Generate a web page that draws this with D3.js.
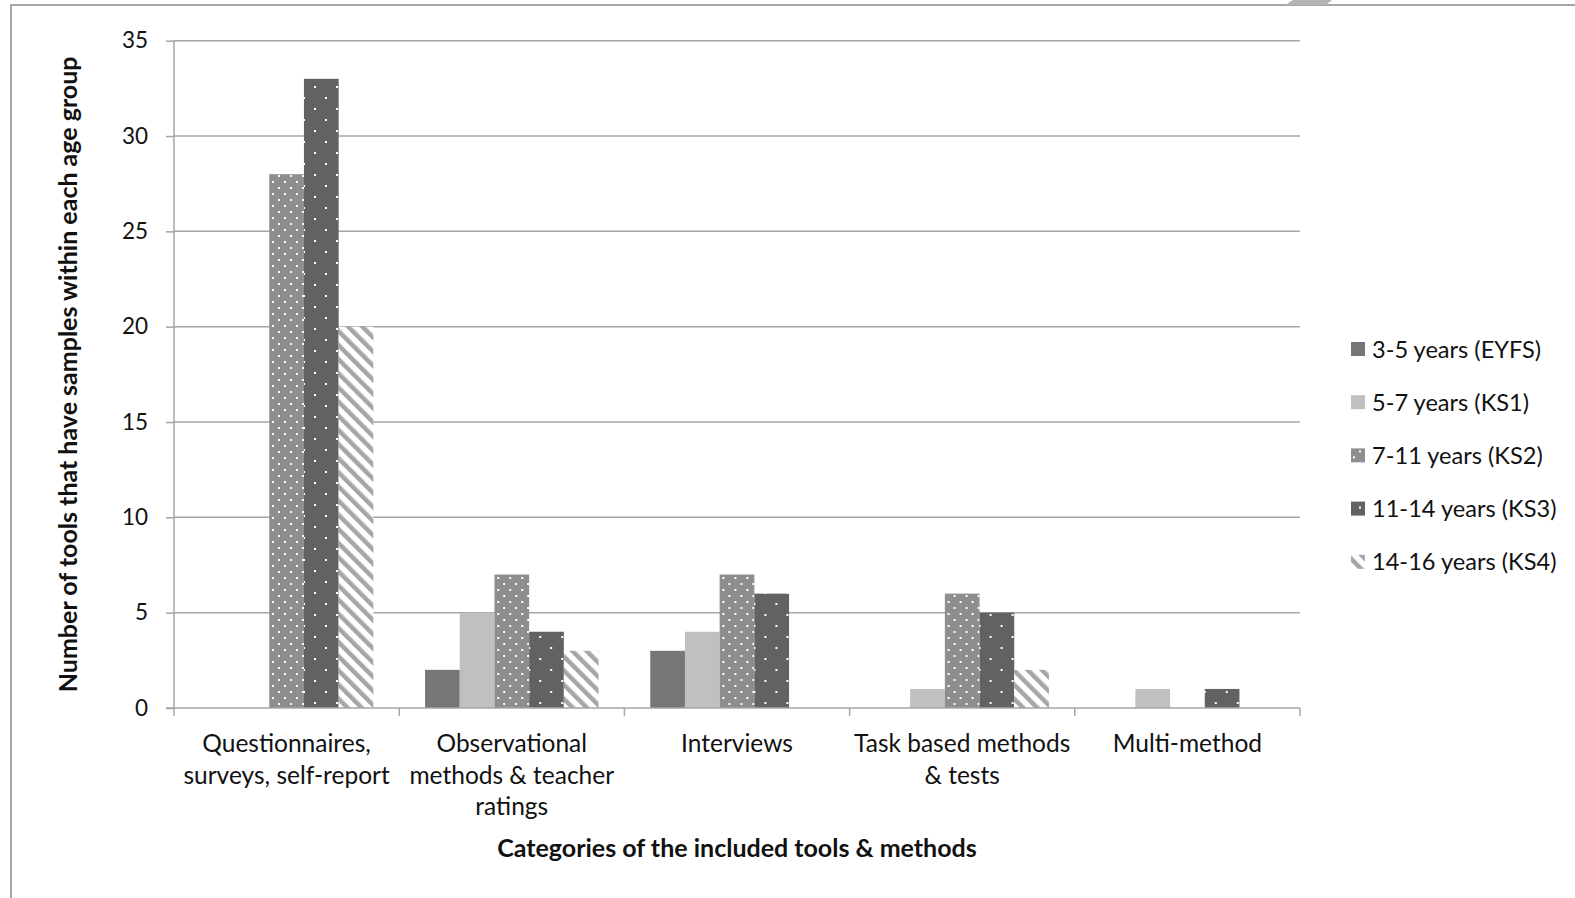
<!DOCTYPE html>
<html>
<head>
<meta charset="utf-8">
<script src="https://cdn.jsdelivr.net/npm/d3@7"></script>
<style>
  html, body { margin: 0; padding: 0; background: #fff; }
  svg { display: block; font-family: Lato, "Open Sans", sans-serif; }
</style>
</head>
<body>
<svg id="chart" width="1575" height="898"></svg>
<script>
// Tool / method categories along the x axis (each entry is one label, split into lines)
const categories = [
  ["Questionnaires,", "surveys, self-report"],
  ["Observational", "methods & teacher", "ratings"],
  ["Interviews"],
  ["Task based methods", "& tests"],
  ["Multi-method"]
];
const categoryKeys = ["Questionnaires", "Observational", "Interviews", "Task", "Multi"];

// Age groups (series)
const seriesNames = ["3-5 years (EYFS)", "5-7 years (KS1)", "7-11 years (KS2)", "11-14 years (KS3)", "14-16 years (KS4)"];

// Number of tools per age group, one array per category
const questionnaires = [0, 0, 28, 33, 20];
const observational  = [2, 5, 7, 4, 3];
const interviews     = [3, 4, 7, 6, 0];
const taskBased      = [0, 1, 6, 5, 2];
const multiMethod    = [0, 1, 0, 1, 0];

const yTicks = [0, 5, 10, 15, 20, 25, 30, 35];

const valuesByCategory = [questionnaires, observational, interviews, taskBased, multiMethod];

const svg = d3.select("#chart");
const defs = svg.append("defs");

// Fill patterns for the series
// 7-11: medium grey with dense, staggered white dots
const pDots = defs.append("pattern").attr("id", "dotsDense")
  .attr("patternUnits", "userSpaceOnUse").attr("width", 12).attr("height", 12);
pDots.append("rect").attr("width", 12).attr("height", 12).attr("fill", "#8e8e8e");
pDots.append("rect").attr("x", 2).attr("y", 1).attr("width", 2).attr("height", 2).attr("fill", "#ffffff");
pDots.append("rect").attr("x", 8).attr("y", 7).attr("width", 2).attr("height", 2).attr("fill", "#ffffff");

// 11-14: dark grey with sparse staggered white dots
const pSparse = defs.append("pattern").attr("id", "dotsSparse")
  .attr("patternUnits", "userSpaceOnUse").attr("width", 22).attr("height", 22);
pSparse.append("rect").attr("width", 22).attr("height", 22).attr("fill", "#626262");
pSparse.append("rect").attr("x", 19).attr("y", 9).attr("width", 2).attr("height", 2).attr("fill", "#ffffff");
pSparse.append("rect").attr("x", 8).attr("y", 20).attr("width", 2).attr("height", 2).attr("fill", "#ffffff");

// 14-16: light grey diagonal stripes (top-left to bottom-right) on white
const pStripe = defs.append("pattern").attr("id", "stripes")
  .attr("patternUnits", "userSpaceOnUse").attr("width", 10).attr("height", 10)
  .attr("patternTransform", "rotate(-45)");
pStripe.append("rect").attr("width", 10).attr("height", 10).attr("fill", "#ffffff");
pStripe.append("rect").attr("x", 0).attr("y", 0).attr("width", 4.5).attr("height", 10).attr("fill", "#a6a6a6");

const seriesFill = ["#767676", "#c0c0c0", "url(#dotsDense)", "url(#dotsSparse)", "url(#stripes)"];

// Outer frame
svg.append("path")
  .attr("d", "M11,898 V5 H1575")
  .attr("fill", "none").attr("stroke", "#a6a6a6").attr("stroke-width", 2);
svg.append("polygon")
  .attr("points", "1285,5 1326,5 1332,0 1293,0")
  .attr("fill", "#b4b4b4");

// Plot geometry
const plotLeft = 174, plotRight = 1300, plotTop = 40.7, plotBottom = 708;

const x0 = d3.scaleBand().domain(categoryKeys).range([plotLeft, plotRight]).paddingInner(0).paddingOuter(0);
const x1 = d3.scaleBand().domain(d3.range(seriesNames.length))
  .range([0, x0.bandwidth()]).paddingOuter(0.745).paddingInner(0);
const y = d3.scaleLinear().domain([0, 35]).range([plotBottom, plotTop]);

// Gridlines
svg.append("g").selectAll("line").data(yTicks.filter(d => d > 0)).join("line")
  .attr("x1", plotLeft).attr("x2", plotRight)
  .attr("y1", d => y(d)).attr("y2", d => y(d))
  .attr("stroke", "#a6a6a6").attr("stroke-width", 1.5);

// Bars
const groups = svg.append("g").selectAll("g").data(categoryKeys).join("g")
  .attr("transform", d => `translate(${x0(d)},0)`);
groups.selectAll("rect")
  .data((d, i) => valuesByCategory[i].map((v, s) => ({ v, s })).filter(e => e.v > 0))
  .join("rect")
  .attr("x", d => x1(d.s))
  .attr("width", x1.bandwidth())
  .attr("y", d => y(d.v))
  .attr("height", d => y(0) - y(d.v))
  .attr("fill", d => seriesFill[d.s]);

// Y axis
const yAxis = d3.axisLeft(y).tickValues(yTicks).tickSize(8).tickPadding(18);
const gy = svg.append("g").attr("transform", `translate(${plotLeft},0)`).call(yAxis);
gy.select(".domain").attr("stroke", "#a6a6a6").attr("stroke-width", 1.5)
  .attr("d", `M0,${plotTop}V${plotBottom}`);
gy.selectAll(".tick line").attr("stroke", "#a6a6a6").attr("stroke-width", 1.5);
gy.selectAll(".tick text").attr("font-size", 22.5).attr("fill", "#111")
  .attr("font-family", "Lato, 'Open Sans', sans-serif");

// X axis line and category boundary ticks
const bounds = categoryKeys.map(k => x0(k)).concat([plotRight]);
svg.append("line").attr("x1", plotLeft - 8).attr("x2", plotRight)
  .attr("y1", plotBottom).attr("y2", plotBottom)
  .attr("stroke", "#a6a6a6").attr("stroke-width", 1.5);
svg.append("g").selectAll("line").data(bounds).join("line")
  .attr("x1", d => d).attr("x2", d => d)
  .attr("y1", plotBottom).attr("y2", plotBottom + 8)
  .attr("stroke", "#a6a6a6").attr("stroke-width", 1.5);

// Category labels
const catLabels = svg.append("g").selectAll("text").data(categories).join("text")
  .attr("text-anchor", "middle")
  .attr("font-size", 24.5).attr("fill", "#111")
  .attr("x", (d, i) => x0(categoryKeys[i]) + x0.bandwidth() / 2)
  .attr("y", 752);
catLabels.selectAll("tspan").data(d => d).join("tspan")
  .attr("x", function () { return d3.select(this.parentNode).attr("x"); })
  .attr("dy", (d, i) => i === 0 ? 0 : 31.7)
  .text(d => d);

// Axis titles
svg.append("text")
  .attr("x", (plotLeft + plotRight) / 2).attr("y", 857)
  .attr("text-anchor", "middle").attr("font-size", 25).attr("font-weight", "bold").attr("fill", "#111")
  .text("Categories of the included tools & methods");
svg.append("text")
  .attr("transform", `translate(77,${(plotTop + plotBottom) / 2}) rotate(-90)`)
  .attr("text-anchor", "middle").attr("font-size", 25).attr("font-weight", "bold").attr("fill", "#111")
  .text("Number of tools that have samples within each age group");

// Legend
const legend = svg.append("g").attr("transform", "translate(1351,349)");
const item = legend.selectAll("g").data(seriesNames).join("g")
  .attr("transform", (d, i) => `translate(0,${i * 53.2})`);
item.append("rect").attr("x", 0).attr("y", -7).attr("width", 14).attr("height", 14)
  .attr("fill", (d, i) => seriesFill[i]);
item.append("text").attr("x", 21).attr("y", 0).attr("dy", "0.36em")
  .attr("font-size", 23.6).attr("fill", "#111").text(d => d);
</script>
</body>
</html>
